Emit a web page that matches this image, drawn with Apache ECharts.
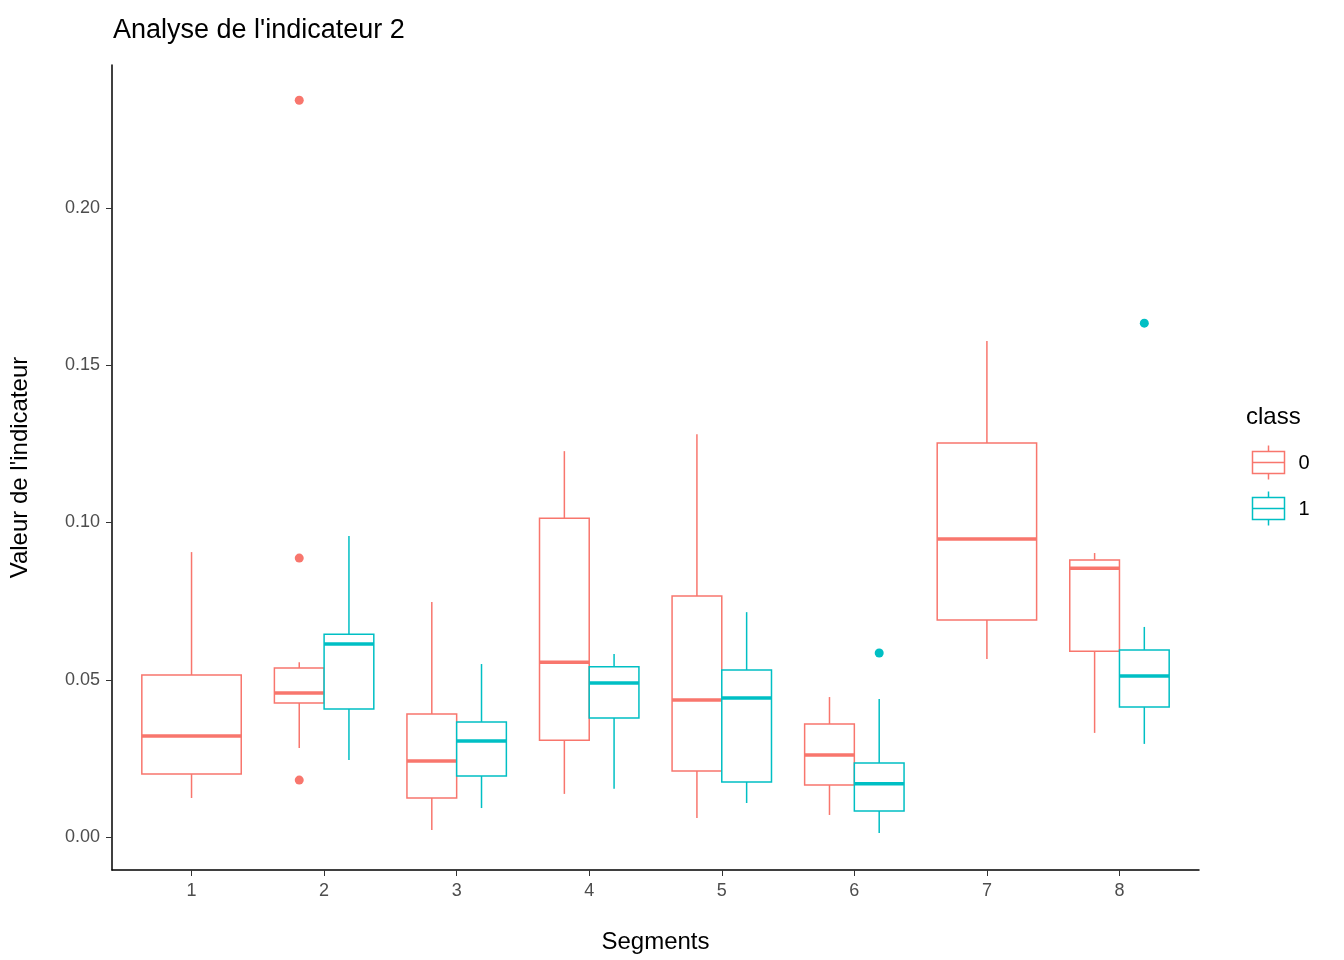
<!DOCTYPE html>
<html><head><meta charset="utf-8"><script src="https://cdn.jsdelivr.net/npm/echarts@6/dist/echarts.min.js"></script>
<style>body{margin:0}#c{width:1344px;height:960px}</style></head><body><div id="c"></div>
<script>
const segments=['1','2','3','4','5','6','7','8'];
// [low, q1, median, q3, high] ; null = absent
const class0=[[0.0124,0.0200,0.0321,0.0515,0.0906],[0.0283,0.0426,0.0458,0.0537,0.0556],[0.0022,0.0124,0.0242,0.0391,0.0747],[0.0137,0.0308,0.0556,0.1014,0.1227],[0.0060,0.0210,0.0436,0.0766,0.1281],[0.0070,0.0165,0.0261,0.0359,0.0445],[0.0566,0.0690,0.0948,0.1253,0.1577],[0.0331,0.0591,0.0855,0.0881,0.0903]];
const class1=[null,[0.0245,0.0407,0.0614,0.0645,0.0957],[0.0092,0.0194,0.0305,0.0366,0.0550],[0.0153,0.0378,0.0490,0.0541,0.0582],[0.0108,0.0175,0.0442,0.0531,0.0715],[0.0013,0.0083,0.0169,0.0235,0.0439],null,[0.0296,0.0413,0.0512,0.0595,0.0668]];
const out0=[[2,0.2343],[2,0.0887],[2,0.0181]];
const out1=[[6,0.0585],[8,0.1634]];
const yTicks=[0,0.05,0.10,0.15,0.20];
const C0='#F8766D',C1='#00BFC4';
function build(arr,other,sign){const d=[];arr.forEach((b,i)=>{if(!b)return;const pair=other[i]!=null;const hw=pair?0.1875:0.375;const cx=i+1+(pair?sign*0.1875:0);d.push([cx,...b,hw]);});return d;}
const d0=build(class0,class1,-1),d1=build(class1,class0,1);
function offs(pts,arr,other,sign){return pts.map(p=>[p[0]+(other[p[0]-1]!=null?sign*0.1875:0),p[1]]);}
function render(color){return function(params,api){const cx=api.value(0),hw=api.value(6);
const pl=api.coord([cx-hw,api.value(2)]),pr=api.coord([cx+hw,api.value(4)]);
const m1=api.coord([cx-hw,api.value(3)]),m2=api.coord([cx+hw,api.value(3)]);
const lo=api.coord([cx,api.value(1)]),q1=api.coord([cx,api.value(2)]),q3=api.coord([cx,api.value(4)]),hi=api.coord([cx,api.value(5)]);
const st={stroke:color,lineWidth:1.5,fill:null};
return {type:'group',children:[
{type:'line',shape:{x1:lo[0],y1:lo[1],x2:q1[0],y2:q1[1]},style:st},
{type:'line',shape:{x1:q3[0],y1:q3[1],x2:hi[0],y2:hi[1]},style:st},
{type:'rect',shape:{x:pl[0],y:pr[1],width:pr[0]-pl[0],height:pl[1]-pr[1]},style:{stroke:color,lineWidth:1.5,fill:'#fff'}},
{type:'line',shape:{x1:m1[0],y1:m1[1],x2:m2[0],y2:m2[1]},style:{stroke:color,lineWidth:3.5}}]};};}
const chart=echarts.init(document.getElementById('c'));
chart.setOption({animation:false,
title:{text:"Analyse de l'indicateur 2",left:108,top:12,textStyle:{fontFamily:'Liberation Sans',fontSize:27,fontWeight:'normal',color:'#000'}},
grid:{left:109,right:145,top:65,bottom:90},
xAxis:{type:'value',min:0.4,max:8.6,splitLine:{show:false},name:'Segments',nameLocation:'middle',nameGap:60,nameTextStyle:{fontFamily:'Liberation Sans',fontSize:24,color:'#000'},
axisLine:{onZero:false,lineStyle:{color:'#000',width:1.5}},axisTick:{show:true,length:6,lineStyle:{color:'#333'},customValues:[1,2,3,4,5,6,7,8]},
axisLabel:{customValues:[1,2,3,4,5,6,7,8],formatter:v=>segments[Math.round(v)-1]||'',fontFamily:'Liberation Sans',fontSize:18,color:'#4d4d4d',margin:12}},
yAxis:{type:'value',min:-0.0105,max:0.2455,splitLine:{show:false},name:"Valeur de l'indicateur",nameLocation:'middle',nameGap:80,nameTextStyle:{fontFamily:'Liberation Sans',fontSize:24,color:'#000'},
axisLine:{show:true,onZero:false,lineStyle:{color:'#000',width:1.5}},axisTick:{show:true,length:6,lineStyle:{color:'#333'},customValues:yTicks},
axisLabel:{customValues:yTicks,formatter:v=>v.toFixed(2),fontFamily:'Liberation Sans',fontSize:18,color:'#4d4d4d',margin:12}},
series:[
{type:'custom',renderItem:render(C0),data:d0,encode:{x:0,y:[1,5]}},
{type:'custom',renderItem:render(C1),data:d1,encode:{x:0,y:[1,5]}},
{type:'scatter',data:offs(out0,class0,class1,-1),symbolSize:9,itemStyle:{color:C0,opacity:1}},
{type:'scatter',data:offs(out1,class1,class0,1),symbolSize:9,itemStyle:{color:C1,opacity:1}}],
graphic:[
{type:'text',left:1246,top:405,style:{text:'class',font:'24px Liberation Sans',fill:'#000'}},
{type:'group',left:1250,top:443,children:[
{type:'line',shape:{x1:18,y1:0,x2:18,y2:6},style:{stroke:C0,lineWidth:1.5}},
{type:'rect',shape:{x:2,y:6,width:32,height:22},style:{stroke:C0,fill:'#fff',lineWidth:1.5}},
{type:'line',shape:{x1:2,y1:17,x2:34,y2:17},style:{stroke:C0,lineWidth:1.5}},
{type:'line',shape:{x1:18,y1:28,x2:18,y2:34},style:{stroke:C0,lineWidth:1.5}},
{type:'text',x:48,y:8,style:{text:'0',font:'20px Liberation Sans',fill:'#000'}}]},
{type:'group',left:1250,top:489,children:[
{type:'line',shape:{x1:18,y1:0,x2:18,y2:6},style:{stroke:C1,lineWidth:1.5}},
{type:'rect',shape:{x:2,y:6,width:32,height:22},style:{stroke:C1,fill:'#fff',lineWidth:1.5}},
{type:'line',shape:{x1:2,y1:17,x2:34,y2:17},style:{stroke:C1,lineWidth:1.5}},
{type:'line',shape:{x1:18,y1:28,x2:18,y2:34},style:{stroke:C1,lineWidth:1.5}},
{type:'text',x:48,y:8,style:{text:'1',font:'20px Liberation Sans',fill:'#000'}}]}]
});
</script></body></html>
